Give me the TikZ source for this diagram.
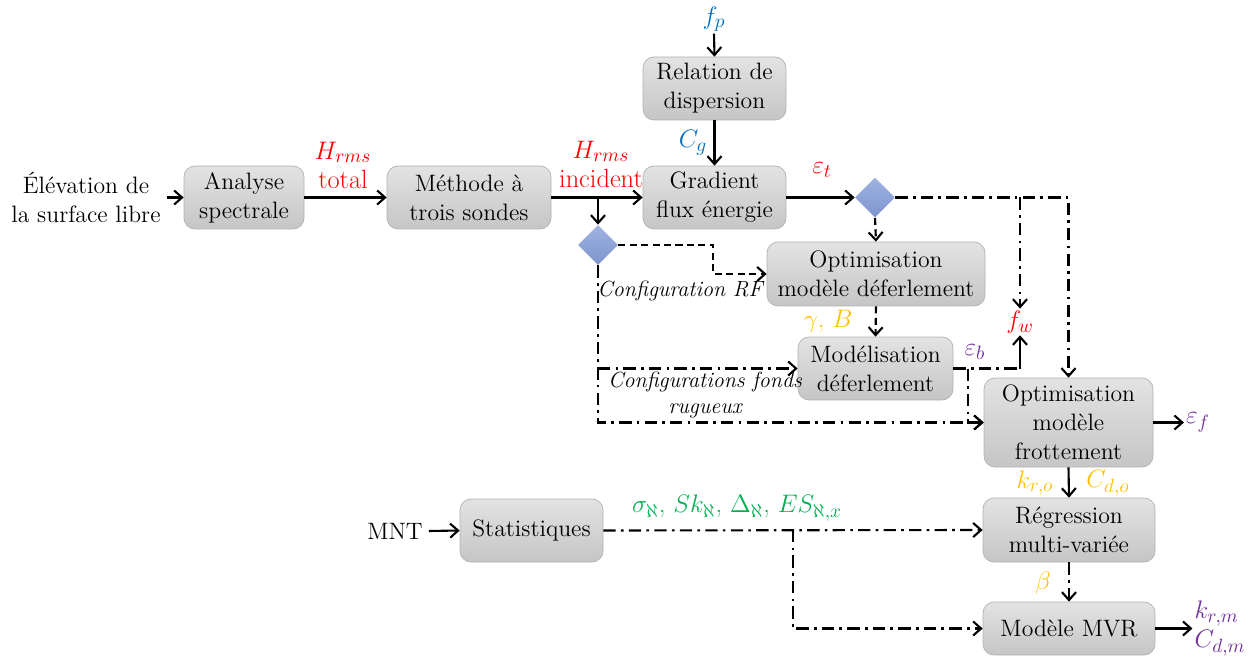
\documentclass[tikz,border=0pt]{standalone}
\usetikzlibrary{arrows.meta,shapes.geometric}
\definecolor{hred}{RGB}{255,0,0}
\definecolor{hblue}{RGB}{0,112,192}
\definecolor{hgold}{RGB}{255,192,0}
\definecolor{hpurple}{RGB}{112,48,160}
\definecolor{hgreen}{RGB}{0,176,80}
\begin{document}
\begin{tikzpicture}[font=\fontsize{13.5}{16.5}\selectfont,
  box/.style={draw=gray!60, rounded corners=0.22cm, top color=gray!22, bottom color=gray!45,
    align=center, minimum height=1.26cm},
  dia/.style={diamond, draw=none, top color={rgb,255:red,160;green,180;blue,225},
    bottom color={rgb,255:red,125;green,148;blue,205}, minimum size=0.8cm, inner sep=0pt},
  flow/.style={line width=1.2pt, -{Straight Barb[length=4.5pt,width=8pt]}},
  dashflow/.style={flow, dash pattern=on 4pt off 2.5pt},
  dotflow/.style={flow, dash pattern=on 7pt off 3pt on 1.5pt off 3pt},
  lbl/.style={inner sep=1pt, font=\fontsize{15}{16.5}\selectfont},
  note/.style={inner sep=1pt, font=\fontsize{12.5}{15}\selectfont\itshape}]
\useasboundingbox (0,0) rectangle (25.08,-13.14);

% boxes
\node[box, minimum width=2.4cm] (ana) at (4.88,-3.95) {Analyse\\spectrale};
\node[box, minimum width=3.28cm] (meth) at (9.38,-3.95) {Méthode à\\trois sondes};
\node[box, minimum width=2.86cm] (rel) at (14.29,-1.77) {Relation de\\dispersion};
\node[box, minimum width=2.86cm] (grad) at (14.29,-3.95) {Gradient\\flux énergie};
\node[box, minimum width=4.36cm, minimum height=1.28cm] (optd) at (17.52,-5.48) {Optimisation\\modèle déferlement};
\node[box, minimum width=3.1cm] (modd) at (17.51,-7.37) {Modélisation\\déferlement};
\node[box, minimum width=3.38cm, minimum height=1.78cm] (optf) at (21.37,-8.45) {Optimisation\\modèle\\frottement};
\node[box, minimum width=2.86cm] (stat) at (10.63,-10.61) {Statistiques};
\node[box, minimum width=3.44cm, minimum height=1.28cm] (reg) at (21.38,-10.6) {Régression\\multi-variée};
\node[box, minimum width=3.44cm, minimum height=1.06cm] (mvr) at (21.38,-12.57) {Modèle MVR};

% decisions
\node[dia] (d1) at (11.96,-4.9) {};
\node[dia] (d2) at (17.5,-3.95) {};

% inputs / outputs
\node[align=center] (elev) at (1.72,-3.95) {Élévation de\\la surface libre};
\node (mnt) at (7.9,-10.62) {MNT};
\node[lbl, text=hblue] (fp) at (14.28,-0.38) {$f_p$};
\node[lbl, text=hred] (fw) at (20.4,-6.44) {$f_w$};
\node[lbl, text=hpurple] (ef) at (23.96,-8.45) {$\varepsilon_f$};
\node[lbl, text=hpurple, align=left] (krm) at (24.4,-12.57) {$k_{r,m}$\\$C_{d,m}$};

% labels
\node[lbl, text=hred, align=center] at (6.86,-3.3) {$H_{rms}$\\total};
\node[lbl, text=hred, align=center] at (12.02,-3.28) {$H_{rms}$\\incident};
\node[lbl, text=hblue] at (13.86,-2.86) {$C_g$};
\node[lbl, text=hred] at (16.44,-3.4) {$\varepsilon_t$};
\node[lbl, text=hgold] at (16.56,-6.42) {$\gamma$, $B$};
\node[lbl, text=hpurple] at (19.5,-7.04) {$\varepsilon_b$};
\node[note] at (13.6,-5.82) {Configuration RF};
\node[note, align=center] at (14.1,-7.9) {Configurations fonds\\rugueux};
\node[lbl, text=hgold] at (20.7,-9.66) {$k_{r,o}$};
\node[lbl, text=hgold] at (22.16,-9.66) {$C_{d,o}$};
\node[lbl, text=hgreen] at (14.74,-10.16) {$\sigma_\aleph$, $Sk_\aleph$, $\Delta_\aleph$, $ES_{\aleph,x}$};
\node[lbl, text=hgold] at (20.86,-11.66) {$\beta$};

% branch points
\coordinate (inc) at (d1.north |- meth.east);
\coordinate (fwtop) at (fw.north |- d2.east);
\coordinate (fwbot) at (fw.south |- modd.east);
\coordinate (ebr) at (19.36,-7.37);
\coordinate (sbr) at (15.86,-10.6);

% solid flow
\draw[flow] (elev.east) -- (ana.west);
\draw[flow] (ana.east) -- (meth.west);
\draw[flow] (meth.east) -- (grad.west);
\draw[flow] (fp.south) -- (rel.north);
\draw[flow] (rel.south) -- (grad.north);
\draw[flow] (grad.east) -- (d2.west);
\draw[flow] (inc) -- (d1.north);
\draw[flow] (fwbot) -- (fw.south);
\draw[flow] (optf.east) -- (ef.west);
\draw[flow] (optf.south) -- (reg.north);
\draw[flow] (mvr.east) -- (krm.west);
\draw[flow] (mnt.east) -- (stat.west);

% dashed flow
\draw[dashflow] (d2.south) -- (optd.north);
\draw[dashflow] (optd.south) -- (modd.north);
\draw[dashflow] (d1.east) -- ++(1.9,0) |- (optd.west);

% dash-dot flow
\draw[dotflow] (d2.east) -| (optf.north);
\draw[dotflow] (fwtop) -- (fw.north);
\draw[dotflow, -] (modd.east) -- (fwbot);
\draw[dotflow] (ebr) |- (optf.west);
\draw[dotflow] (d1.south) |- (optf.west);
\draw[dotflow] (d1.south |- modd.west) -- (modd.west);
\draw[dotflow] (stat.east) -- (reg.west);
\draw[dotflow] (sbr) |- (mvr.west);
\draw[dotflow] (reg.south) -- (mvr.north);
\end{tikzpicture}
\end{document}
